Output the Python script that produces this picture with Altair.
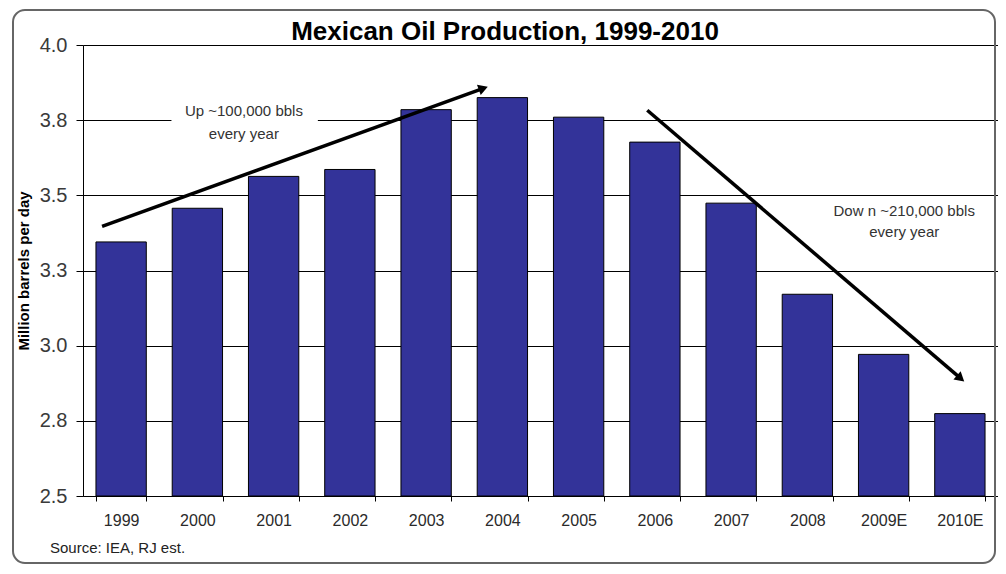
import altair as alt
import pandas as pd

# ---- data ----
years = ["1999", "2000", "2001", "2002", "2003", "2004", "2005", "2006",
         "2007", "2008", "2009E", "2010E"]
production = [3.345, 3.457, 3.563, 3.586, 3.785, 3.825, 3.760, 3.677,
              3.474, 3.171, 2.971, 2.774]

y_ticks = [2.5, 2.75, 3.0, 3.25, 3.5, 3.75, 4.0]

# annotation arrows, in (category index, value) space
arrow_x = [0.25, 7.40]
arrow_y = [3.397, 3.783]
arrow_x2 = [5.25, 11.51]
arrow_y2 = [3.856, 2.891]

# annotation texts
note_text = ["Up ~100,000 bbls", "every year", "Dow n ~210,000 bbls", "every year"]
note_x = [2.11, 2.11, 10.77, 10.77]
note_y = [3.779, 3.703, 3.447, 3.377]

title_text = ["Mexican Oil Production, 1999-2010"]
source_text = ["Source: IEA, RJ est."]

FONT = "Liberation Sans"
W, H = 915, 451

bars_df = pd.DataFrame({"year": years, "value": production})
arrows_df = pd.DataFrame({"x": arrow_x, "y": arrow_y, "x2": arrow_x2, "y2": arrow_y2})
notes_df = pd.DataFrame({"text": note_text, "x": note_x, "y": note_y})
src_df = pd.DataFrame({"text": source_text})
title_df = pd.DataFrame({"text": title_text})

yscale = alt.Scale(domain=[2.5, 4.0], nice=False, zero=False)
xq = alt.Scale(domain=[0, 12], nice=False, zero=False)

border = alt.Chart(src_df).mark_rect(
    filled=False, fillOpacity=0, stroke="#666666", strokeWidth=2, cornerRadius=12
).encode(
    x=alt.value(-70), x2=alt.value(912), y=alt.value(-35), y2=alt.value(518)
)

bars = alt.Chart(bars_df).mark_bar(
    color="#333399", stroke="#000000", strokeWidth=1
).encode(
    x=alt.X("year:N", sort=years,
            scale=alt.Scale(paddingInner=0.34, paddingOuter=0.17),
            axis=alt.Axis(title=None, labelAngle=0, labelFontSize=16,
                          labelColor="#2a2a2a", labelFont=FONT,
                          tickBand="extent", tickSize=5, tickColor="#000000",
                          domainColor="#000000", labelPadding=11, grid=False)),
    y=alt.Y("value:Q", scale=yscale,
            axis=alt.Axis(values=y_ticks, format=".1f",
                          title="Million barrels per day",
                          titleFontSize=15, titleFontWeight="bold",
                          titleFont=FONT, titleColor="#000000",
                          titlePadding=8,
                          labelFontSize=20, labelColor="#3a3a3a", labelFont=FONT,
                          labelPadding=9, tickSize=7, tickColor="#000000",
                          domainColor="#000000",
                          grid=True, gridColor="#000000", gridOpacity=1,
                          gridWidth=1)),
    y2=alt.datum(2.5),
)

mask = alt.Chart(src_df).mark_rect(fill="white").encode(
    x=alt.X(datum=1.16, scale=xq, axis=None),
    x2=alt.X2(datum=3.08),
    y=alt.Y(datum=3.735, scale=yscale),
    y2=alt.Y2(datum=3.765),
)

arrow_lines = alt.Chart(arrows_df).mark_rule(
    color="#000000", strokeWidth=3.5
).encode(
    x=alt.X("x:Q", scale=xq, axis=None),
    x2="x2:Q",
    y=alt.Y("y:Q", scale=yscale),
    y2="y2:Q",
)

head_up = alt.Chart(arrows_df.iloc[[0]]).mark_point(
    shape="triangle-right", filled=True, color="#000000", size=120,
    opacity=1, angle=340
).encode(
    x=alt.X("x2:Q", scale=xq, axis=None),
    y=alt.Y("y2:Q", scale=yscale),
)

head_down = alt.Chart(arrows_df.iloc[[1]]).mark_point(
    shape="triangle-right", filled=True, color="#000000", size=120,
    opacity=1, angle=41
).encode(
    x=alt.X("x2:Q", scale=xq, axis=None),
    y=alt.Y("y2:Q", scale=yscale),
)

notes = alt.Chart(notes_df).mark_text(
    font=FONT, fontSize=15, color="#333333", align="center", baseline="middle"
).encode(
    x=alt.X("x:Q", scale=xq, axis=None),
    y=alt.Y("y:Q", scale=yscale),
    text="text:N",
)

source = alt.Chart(src_df).mark_text(
    font=FONT, fontSize=15, color="#222222", align="left", baseline="middle"
).encode(
    x=alt.value(-33), y=alt.value(503), text="text:N"
)

title = alt.Chart(title_df).mark_text(
    font=FONT, fontSize=26, fontWeight="bold", color="#000000",
    align="center", baseline="alphabetic"
).encode(
    x=alt.value(422), y=alt.value(-5), text="text:N"
)

chart = alt.layer(
    border, bars, mask, arrow_lines, head_up, head_down, notes, source, title
).resolve_scale(x="independent").properties(
    width=W, height=H,
    autosize=alt.AutoSizeParams(type="none"),
    padding={"left": 75, "top": 37, "right": 0, "bottom": 70},
).configure_view(stroke=None).configure(background="white")

chart.save("out.html", embed_options={"renderer": "svg", "actions": False})
